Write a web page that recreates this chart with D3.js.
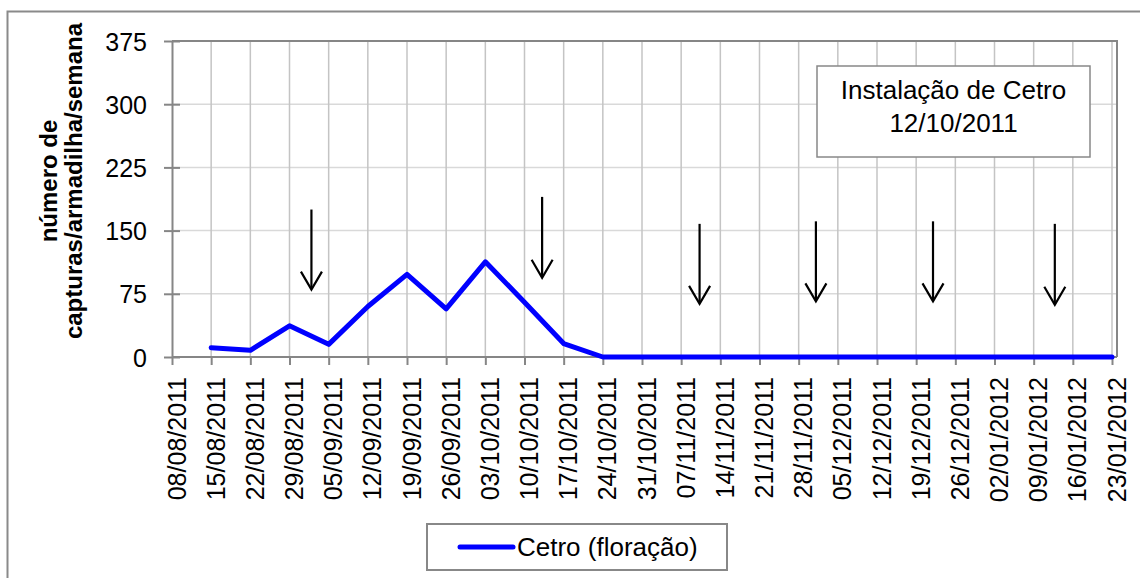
<!DOCTYPE html>
<html>
<head>
<meta charset="utf-8">
<script src="https://cdn.jsdelivr.net/npm/d3@7"></script>
<style>
  body { margin: 0; background: #fff; }
  text { font-family: "Liberation Sans", Arial, sans-serif; fill: #000; }
</style>
</head>
<body>
<svg id="chart" width="1140" height="578"></svg>
<script>
// Weekly trap counts, Cetro plot (flowering period)
const dates = [
  "08/08/2011", "15/08/2011", "22/08/2011", "29/08/2011", "05/09/2011",
  "12/09/2011", "19/09/2011", "26/09/2011", "03/10/2011", "10/10/2011",
  "17/10/2011", "24/10/2011", "31/10/2011", "07/11/2011", "14/11/2011",
  "21/11/2011", "28/11/2011", "05/12/2011", "12/12/2011", "19/12/2011",
  "26/12/2011", "02/01/2012", "09/01/2012", "16/01/2012", "23/01/2012"
];
const captures = [null, 11, 8, 37, 15, 60, 98, 57, 113, 65, 16,
  0, 0, 0, 0, 0, 0, 0, 0, 0, 0, 0, 0, 0, 0];
const yTicks = [0, 75, 150, 225, 300, 375];

// Treatment markers: position along the week index, arrow top and tip (captures units)
const arrowPos = [3.56, 9.45, 13.47, 16.44, 19.43, 22.54];
const arrowTop = [175, 190, 158, 161, 161, 158];
const arrowTip = [80, 94, 63, 66, 66, 62];

const seriesName = "Cetro (floração)";
const noteLines = ["Instalação de Cetro", "12/10/2011"];
const yTitleLines = ["número de", "capturas/armadilha/semana"];

const svg = d3.select("#chart");
const plot = { left: 172, top: 41, right: 1117, bottom: 357 };

const x = d3.scaleLinear().domain([0, dates.length - 1]).range([172, 1112]);
const y = d3.scaleLinear().domain([0, 375]).range([plot.bottom, plot.top]);

// outer chart frame
svg.append("rect")
  .attr("x", 7.5).attr("y", 11.5).attr("width", 1150).attr("height", 600)
  .attr("fill", "none").attr("stroke", "#8a8a8a").attr("stroke-width", 2);

// gridlines
const grid = svg.append("g");
grid.selectAll("line.h").data(yTicks.slice(1, -1)).join("line")
  .attr("x1", plot.left).attr("x2", plot.right)
  .attr("y1", d => y(d)).attr("y2", d => y(d))
  .attr("stroke", "#d9d9d9").attr("stroke-width", 1.5);
grid.selectAll("line.v").data(d3.range(1, dates.length)).join("line")
  .attr("x1", d => x(d)).attr("x2", d => x(d))
  .attr("y1", plot.top).attr("y2", plot.bottom)
  .attr("stroke", "#c4c4c4").attr("stroke-width", 1.5);

// plot border (top and right)
svg.append("path")
  .attr("d", `M${plot.left},${plot.top}H${plot.right}V${plot.bottom}`)
  .attr("fill", "none").attr("stroke", "#868686").attr("stroke-width", 2);

// y axis
const yAxis = svg.append("g")
  .attr("transform", `translate(${plot.left},0)`)
  .call(d3.axisLeft(y).tickValues(yTicks).tickSize(8).tickSizeOuter(0).tickPadding(17));
yAxis.select(".domain").attr("stroke", "#868686").attr("stroke-width", 2);
yAxis.selectAll(".tick line").attr("x1", 8).attr("stroke", "#868686").attr("stroke-width", 2);
yAxis.selectAll(".tick text")
  .attr("font-size", 25).attr("font-family", "Liberation Sans, Arial, sans-serif")
  .attr("dy", "0.36em");

// x axis
const xAxis = svg.append("g")
  .attr("transform", `translate(0,${plot.bottom})`)
  .call(d3.axisBottom(x).tickValues(d3.range(dates.length))
    .tickFormat(i => dates[i]).tickSize(8).tickSizeOuter(0));
xAxis.select(".domain").attr("d", `M${plot.left},0H${plot.right}`)
  .attr("stroke", "#868686").attr("stroke-width", 2);
xAxis.selectAll(".tick line").attr("stroke", "#868686").attr("stroke-width", 2);
xAxis.selectAll(".tick text")
  .attr("font-size", 25).attr("font-family", "Liberation Sans, Arial, sans-serif")
  .attr("text-anchor", "end")
  .attr("transform", "rotate(-90)")
  .attr("x", -20).attr("y", 13).attr("dy", 0);

// captures series
const line = d3.line()
  .defined(d => d != null)
  .x((d, i) => x(i))
  .y(d => y(d));
svg.append("path")
  .datum(captures)
  .attr("d", line)
  .attr("fill", "none").attr("stroke", "#0000ff").attr("stroke-width", 5)
  .attr("stroke-linejoin", "round").attr("stroke-linecap", "round");

// treatment arrows
const arrows = svg.append("g").attr("stroke", "#000").attr("stroke-width", 2.2).attr("fill", "none");
arrowPos.forEach((p, i) => {
  const ax = x(p), y0 = y(arrowTop[i]), y1 = y(arrowTip[i]);
  arrows.append("line").attr("x1", ax).attr("x2", ax).attr("y1", y0).attr("y2", y1 - 1);
  arrows.append("path").attr("d", `M${ax - 10.5},${y1 - 18}L${ax},${y1}L${ax + 10.5},${y1 - 18}`);
});

// note box
svg.append("rect")
  .attr("x", 817).attr("y", 66).attr("width", 273).attr("height", 91)
  .attr("fill", "#fff").attr("stroke", "#888").attr("stroke-width", 1.5);
svg.append("g").selectAll("text").data(noteLines).join("text")
  .attr("x", 953.5).attr("y", (d, i) => 99 + i * 33)
  .attr("text-anchor", "middle").attr("font-size", 26)
  .text(d => d);

// y axis title
svg.append("g").selectAll("text").data(yTitleLines).join("text")
  .attr("transform", (d, i) => `translate(${57 + i * 25},181) rotate(-90)`)
  .attr("text-anchor", "middle").attr("font-size", 24).attr("font-weight", "bold")
  .text(d => d);

// legend
const legend = svg.append("g");
legend.append("rect")
  .attr("x", 427).attr("y", 524).attr("width", 300).attr("height", 46)
  .attr("fill", "#fff").attr("stroke", "#888").attr("stroke-width", 2);
legend.append("line")
  .attr("x1", 460).attr("x2", 513).attr("y1", 547).attr("y2", 547)
  .attr("stroke", "#0000ff").attr("stroke-width", 5).attr("stroke-linecap", "round");
legend.append("text")
  .attr("x", 517).attr("y", 556).attr("font-size", 26)
  .text(seriesName);
</script>
</body>
</html>
